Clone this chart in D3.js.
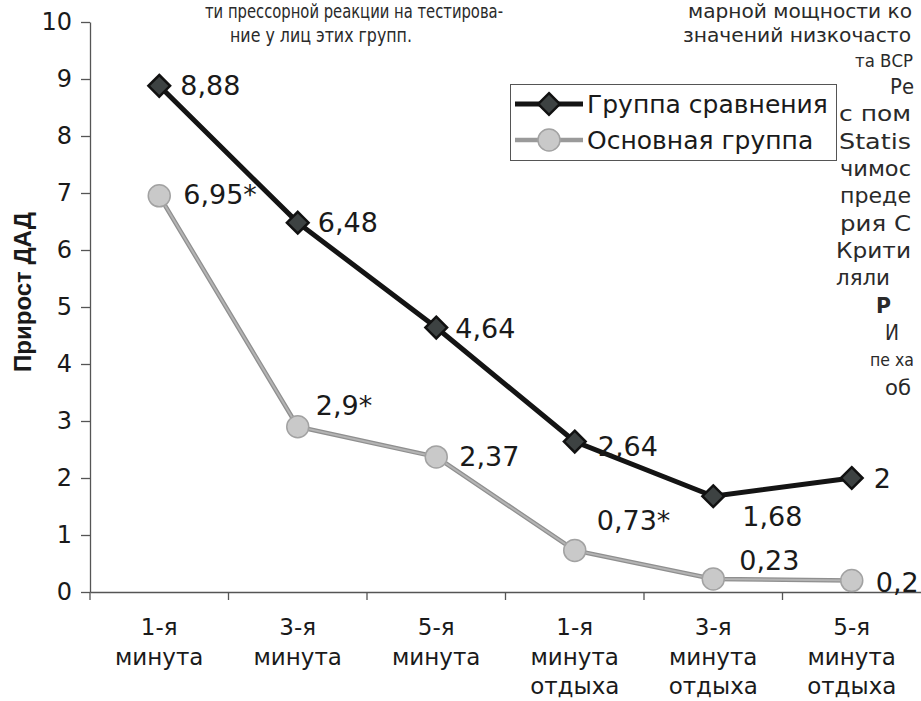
<!DOCTYPE html>
<html>
<head>
<meta charset="utf-8">
<script src="https://cdn.jsdelivr.net/npm/d3@7"></script>
<style>
  body { margin: 0; background: #fff; }
  svg { display: block; }
</style>
</head>
<body>
<div id="chart"></div>
<script>
// data
const categories = ["1-я минута", "3-я минута", "5-я минута",
  "1-я минута отдыха", "3-я минута отдыха", "5-я минута отдыха"];
const categoryLines = [["1-я", "минута"], ["3-я", "минута"], ["5-я", "минута"],
  ["1-я", "минута", "отдыха"], ["3-я", "минута", "отдыха"], ["5-я", "минута", "отдыха"]];
const seriesNames = ["Группа сравнения", "Основная группа"];
const comparisonValues = [8.88, 6.48, 4.64, 2.64, 1.68, 2];
const mainValues = [6.95, 2.9, 2.37, 0.73, 0.23, 0.2];
const comparisonLabels = ["8,88", "6,48", "4,64", "2,64", "1,68", "2"];
const mainLabels = ["6,95*", "2,9*", "2,37", "0,73*", "0,23", "0,2"];
const yTicks = [0, 1, 2, 3, 4, 5, 6, 7, 8, 9, 10];
const yTitle = "Прирост ДАД";

// label placement for each point: [dx, dy]
const comparisonLabelOffsets = [[21, 0], [20, 0], [19, 1], [23, 5], [29, 20], [22, 0]];
const mainLabelOffsets = [[24, -1], [18, -21], [23, 0], [22, -30], [26, -18], [24, 2]];

// fragments of the journal page that surround the figure (baseline y)
const pageNarrow = [
  { text: "ти прессорной реакции на тестирова-", x: 205, y: 18, w: 298 },
  { text: "ние у лиц этих групп.", x: 230, y: 42, w: 182 },
  { text: "марной мощности ко", x: 688, y: 18, w: 224 },
  { text: "значений низкочасто", x: 683, y: 42, w: 228 }
];
const pageRight = [
  { text: "та ВСР", x: 855, y: 61, w: 58, size: 17 },
  { text: "Ре", x: 890, y: 87, w: 24 },
  { text: "с пом", x: 839, y: 114, w: 72 },
  { text: "Statis", x: 839, y: 142, w: 72 },
  { text: "чимос", x: 840, y: 169, w: 71 },
  { text: "преде", x: 840, y: 196, w: 71 },
  { text: "рия С", x: 840, y: 224, w: 71 },
  { text: "Крити", x: 836, y: 251, w: 75 },
  { text: "ляли", x: 836, y: 278, w: 54 },
  { text: "Р", x: 876, y: 306, w: 15, bold: true },
  { text: "И", x: 885, y: 333, w: 14 },
  { text: "пе ха", x: 870, y: 360, w: 44, size: 17 },
  { text: "об", x: 885, y: 388, w: 26 }
];

function lineChart() {
  const W = 921, H = 701;
  const left = 90, right = 921, top = 22, bottom = 592;
  const font = "'DejaVu Sans', Verdana, sans-serif";

  function chart(selector) {
    let svg = d3.select(selector)
      .append("svg")
      .attr("width", W)
      .attr("height", H)
      .style("background-color", "#FFFFFF");

    // page text around the figure
    svg.selectAll(".page-narrow")
      .data(pageNarrow)
      .enter().append("text")
      .attr("class", "page-narrow")
      .attr("x", d => d.x)
      .attr("y", d => d.y)
      .attr("textLength", d => d.w)
      .attr("lengthAdjust", "spacingAndGlyphs")
      .style("font-family", "'Liberation Sans Narrow', 'DejaVu Sans Condensed', sans-serif")
      .style("font-size", "20px")
      .style("fill", "#2a2a2a")
      .text(d => d.text);

    svg.selectAll(".page-right")
      .data(pageRight)
      .enter().append("text")
      .attr("class", "page-right")
      .attr("x", d => d.x)
      .attr("y", d => d.y)
      .attr("dominant-baseline", "central")
      .attr("textLength", d => d.w)
      .attr("lengthAdjust", "spacingAndGlyphs")
      .style("font-family", font)
      .style("font-size", d => (d.size || 21) + "px")
      .style("font-weight", d => d.bold ? "bold" : "normal")
      .style("fill", "#2a2a2a")
      .text(d => d.text);

    let x = d3.scaleBand().domain(categories).range([left, right]);
    let y = d3.scaleLinear().domain([0, 10]).range([bottom, top]);
    let cx = d => x(d) + x.bandwidth() / 2;

    // y axis
    let yAxis = svg.append("g")
      .attr("class", "axis axis--y")
      .attr("transform", "translate(" + left + ",0)")
      .call(d3.axisLeft(y).tickValues(yTicks).tickSize(9).tickSizeOuter(0).tickPadding(9));
    yAxis.selectAll("path, line").attr("stroke", "#555").attr("stroke-width", 1.3);
    yAxis.selectAll("text")
      .style("font-family", font)
      .style("font-size", "24px")
      .style("fill", "#1a1a1a");

    // x axis: ticks between the categories
    let xAxis = svg.append("g")
      .attr("class", "axis axis--x")
      .attr("transform", "translate(0," + bottom + ")")
      .call(d3.axisBottom(x).tickSize(0).tickSizeOuter(0).tickPadding(0));
    xAxis.select("path").attr("stroke", "#555").attr("stroke-width", 1.6);
    xAxis.selectAll(".tick text").remove();
    xAxis.selectAll(".boundary")
      .data(categories)
      .enter().append("line")
      .attr("class", "boundary")
      .attr("x1", d => x(d)).attr("x2", d => x(d))
      .attr("y1", 0).attr("y2", 8)
      .attr("stroke", "#555").attr("stroke-width", 1.3);

    let catText = xAxis.selectAll(".cat")
      .data(categories)
      .enter().append("text")
      .attr("class", "cat")
      .attr("x", d => cx(d))
      .attr("y", 43)
      .attr("text-anchor", "middle")
      .style("font-family", font)
      .style("font-size", "23px")
      .style("fill", "#1a1a1a");
    catText.selectAll("tspan")
      .data((d, i) => categoryLines[i])
      .enter().append("tspan")
      .attr("x", function () { return d3.select(this.parentNode).attr("x"); })
      .attr("dy", (d, i) => i === 0 ? 0 : 29.5)
      .text(d => d);

    // y axis title
    svg.append("text")
      .attr("transform", "translate(22,292) rotate(-90)")
      .attr("text-anchor", "middle")
      .attr("dominant-baseline", "central")
      .style("font-family", "'Liberation Sans', Arial, sans-serif")
      .style("font-weight", "bold")
      .style("font-size", "24px")
      .style("fill", "#1a1a1a")
      .text(yTitle);

    let line = d3.line()
      .x(d => cx(d.cat))
      .y(d => y(d.value));

    let comparison = categories.map((c, i) => ({ cat: c, value: comparisonValues[i] }));
    let main = categories.map((c, i) => ({ cat: c, value: mainValues[i] }));

    // main group: grey line, light circles
    svg.append("path")
      .datum(main)
      .attr("d", line)
      .attr("fill", "none")
      .attr("stroke", "#8f8f8f")
      .attr("stroke-width", 4.5);
    svg.append("path")
      .datum(main)
      .attr("d", line)
      .attr("fill", "none")
      .attr("stroke", "#b4b4b4")
      .attr("stroke-width", 2);

    // comparison group: black line, diamonds
    svg.append("path")
      .datum(comparison)
      .attr("d", line)
      .attr("fill", "none")
      .attr("stroke", "#141414")
      .attr("stroke-width", 5);

    let diamond = d3.symbol().type(d3.symbolDiamond2).size(300);

    svg.selectAll(".dot-main")
      .data(main)
      .enter().append("circle")
      .attr("class", "dot-main")
      .attr("cx", d => cx(d.cat))
      .attr("cy", d => y(d.value))
      .attr("r", 11)
      .attr("fill", "#c9c9c9")
      .attr("stroke", "#a2a2a2")
      .attr("stroke-width", 1.5);

    svg.selectAll(".dot-comp")
      .data(comparison)
      .enter().append("path")
      .attr("class", "dot-comp")
      .attr("transform", d => "translate(" + cx(d.cat) + "," + y(d.value) + ")")
      .attr("d", diamond)
      .attr("fill", "#3d4242")
      .attr("stroke", "#111")
      .attr("stroke-width", 2.5);

    // value labels
    function addLabels(cls, rows, labels, offsets) {
      svg.selectAll("." + cls)
        .data(rows)
        .enter().append("text")
        .attr("class", cls)
        .attr("x", (d, i) => cx(d.cat) + offsets[i][0])
        .attr("y", (d, i) => y(d.value) + offsets[i][1])
        .attr("dominant-baseline", "central")
        .style("font-family", font)
        .style("font-size", "27px")
        .style("fill", "#1a1a1a")
        .text((d, i) => labels[i]);
    }
    addLabels("lab-comp", comparison, comparisonLabels, comparisonLabelOffsets);
    addLabels("lab-main", main, mainLabels, mainLabelOffsets);

    // legend
    let legend = svg.append("g").attr("class", "legend");
    legend.append("rect")
      .attr("x", 510.5).attr("y", 84.5)
      .attr("width", 326).attr("height", 76)
      .attr("fill", "#fff")
      .attr("stroke", "#555")
      .attr("stroke-width", 1);

    let items = legend.selectAll(".item")
      .data(seriesNames)
      .enter().append("g")
      .attr("class", "item")
      .attr("transform", (d, i) => "translate(0," + (104 + i * 36) + ")");

    items.append("line")
      .attr("x1", 515).attr("x2", 583)
      .attr("stroke", (d, i) => i === 0 ? "#141414" : "#9a9a9a")
      .attr("stroke-width", (d, i) => i === 0 ? 5 : 4.5);
    items.filter((d, i) => i === 0).append("path")
      .attr("transform", "translate(549,0)")
      .attr("d", diamond)
      .attr("fill", "#3d4242")
      .attr("stroke", "#111")
      .attr("stroke-width", 2.5);
    items.filter((d, i) => i === 1).append("circle")
      .attr("cx", 549).attr("r", 11)
      .attr("fill", "#c9c9c9")
      .attr("stroke", "#a2a2a2")
      .attr("stroke-width", 1.5);
    items.append("text")
      .attr("x", 587)
      .attr("dominant-baseline", "central")
      .style("font-family", font)
      .style("font-size", "25px")
      .style("fill", "#1a1a1a")
      .text(d => d);

    return chart;
  }

  return chart;
}

lineChart()("#chart");
</script>
</body>
</html>
